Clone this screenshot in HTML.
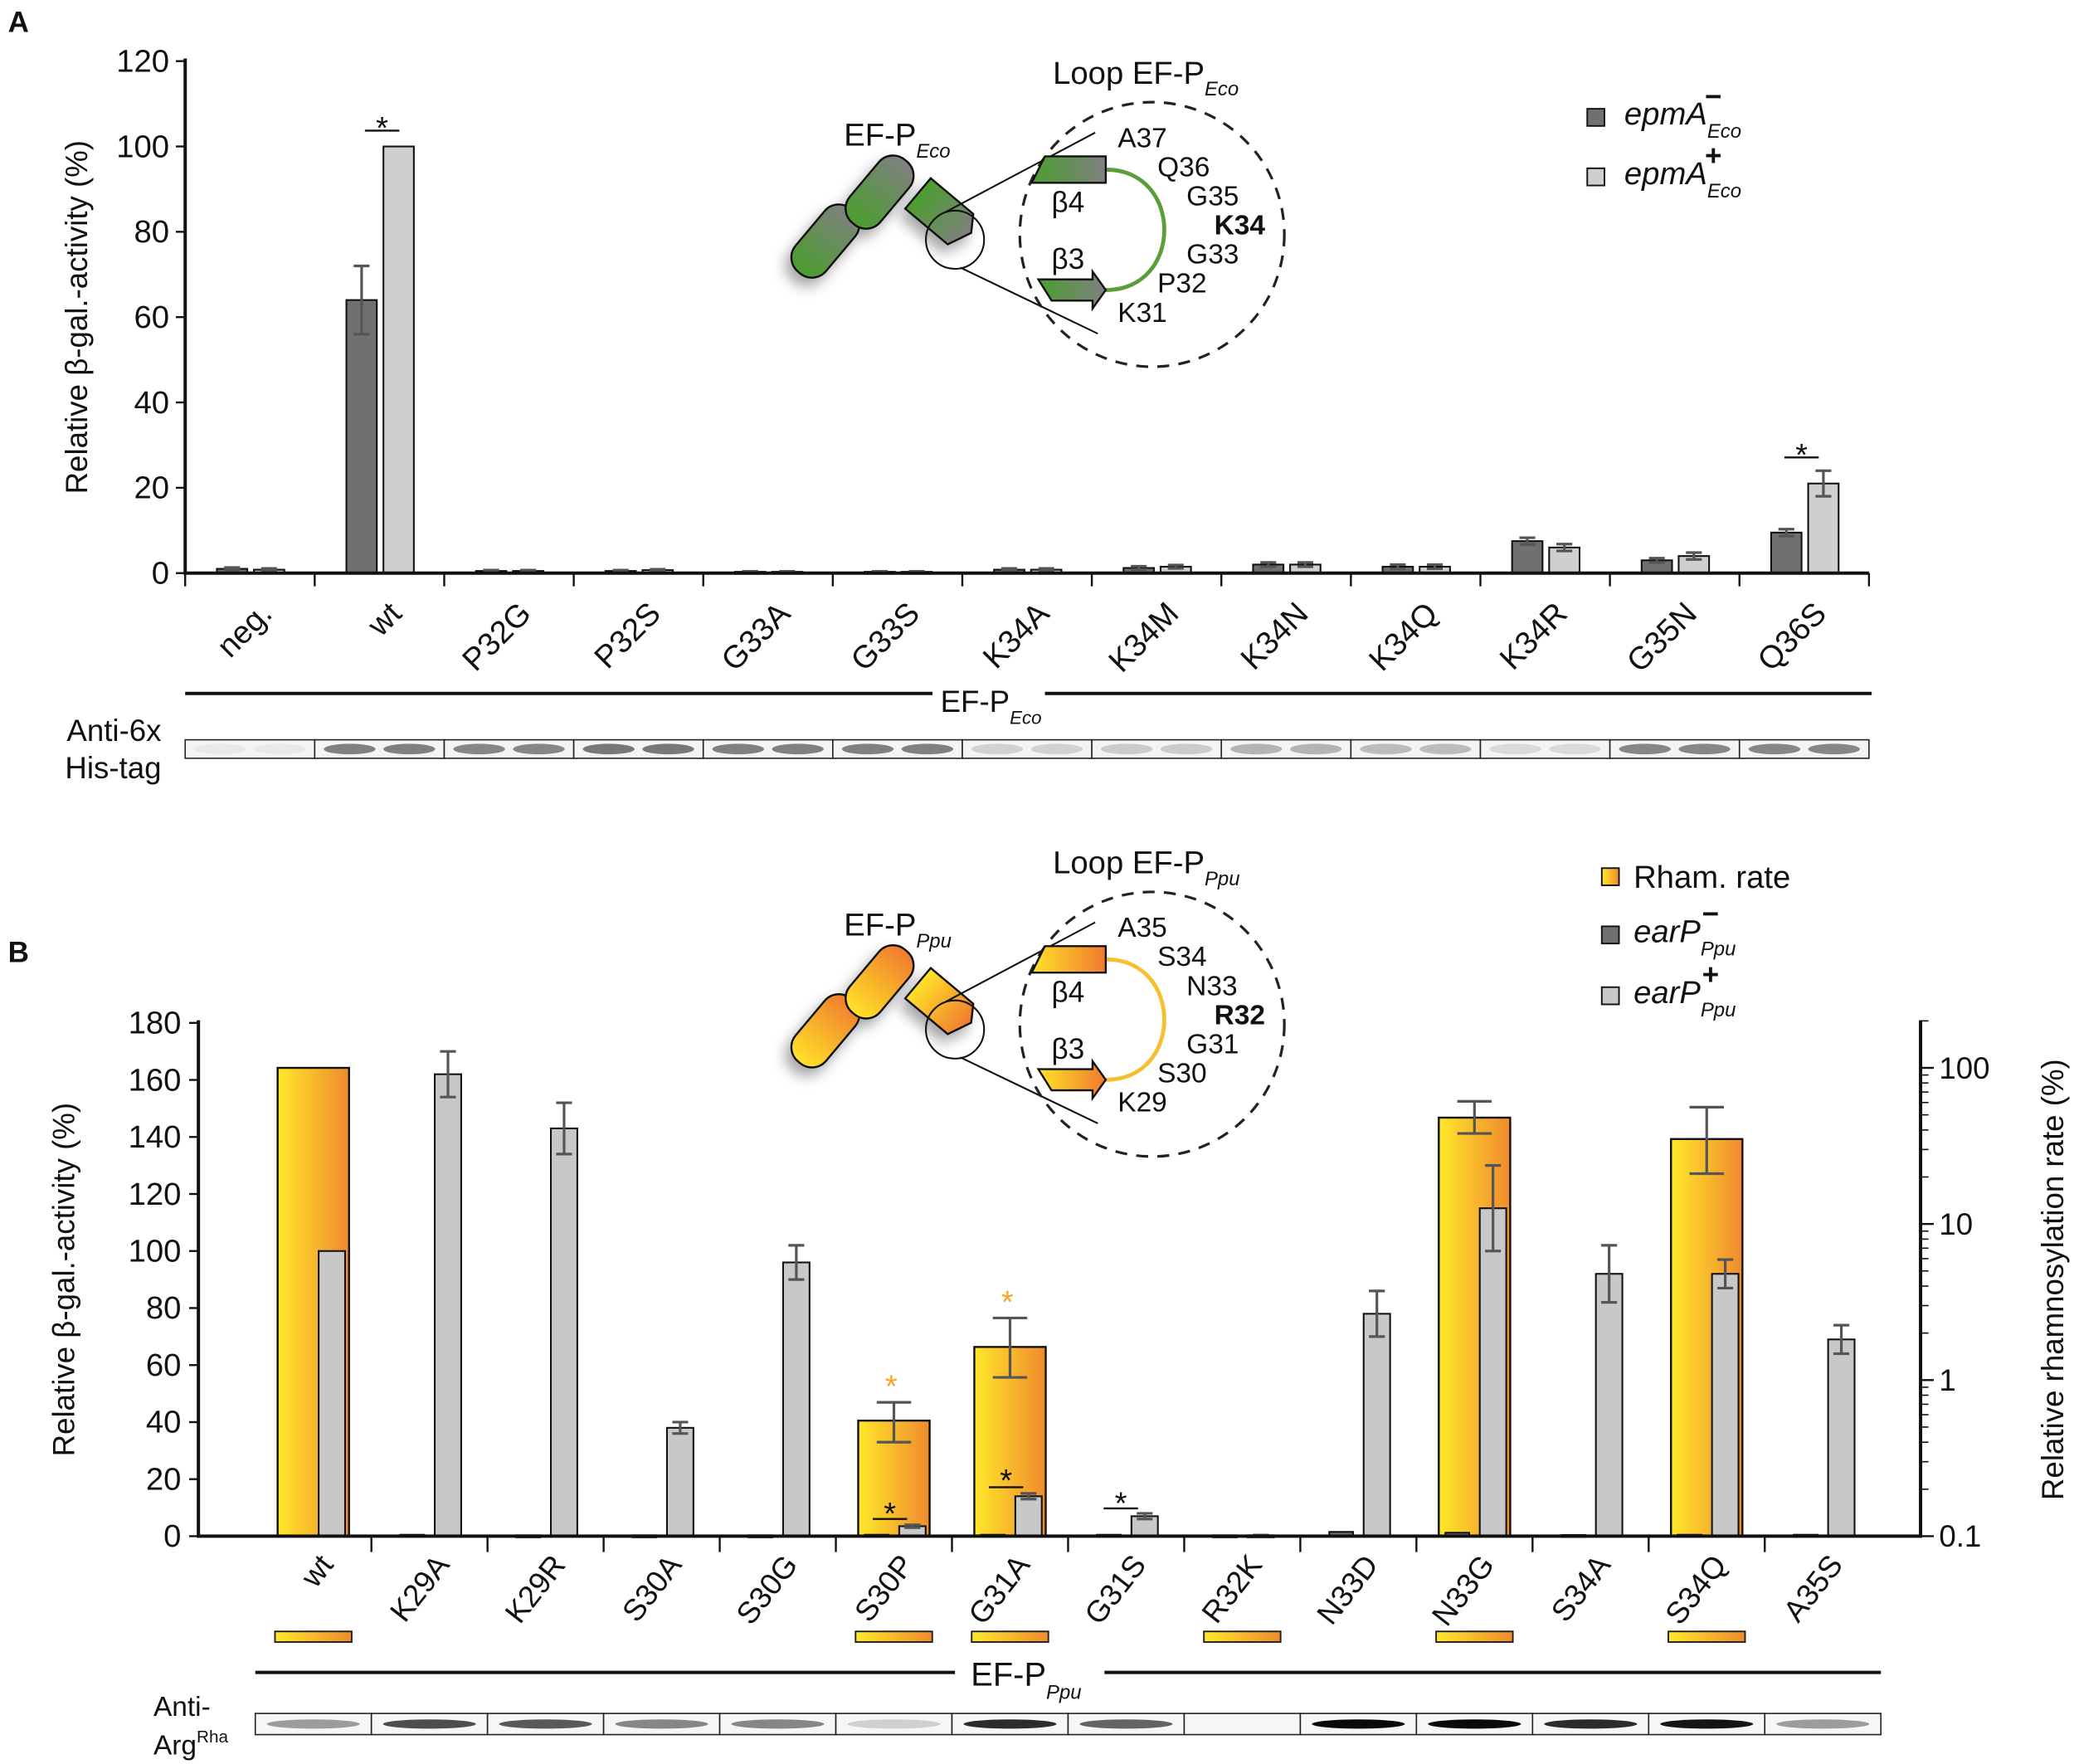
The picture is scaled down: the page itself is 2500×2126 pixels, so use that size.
<!DOCTYPE html>
<html><head><meta charset="utf-8"><style>
html,body{margin:0;padding:0;background:#fff}
svg{display:block}
text{font-family:"Liberation Sans",sans-serif;fill:#111}
</style></head><body>
<svg id="fig" xmlns="http://www.w3.org/2000/svg" width="2500" height="2126" viewBox="0 0 1568 1333">
<defs>
<linearGradient id="rham" x1="0" x2="1" y1="0" y2="0"><stop offset="0" stop-color="#ffe82a"/><stop offset="1" stop-color="#f08a2e"/></linearGradient>
<linearGradient id="grn" x1="0" x2="1" y1="0" y2="0"><stop offset="0" stop-color="#4a9e2e"/><stop offset="1" stop-color="#808080"/></linearGradient>
<linearGradient id="org" x1="0" x2="1" y1="0" y2="0"><stop offset="0" stop-color="#ffe22a"/><stop offset="1" stop-color="#f07a2e"/></linearGradient>
<filter id="sh" x="-30%" y="-30%" width="160%" height="160%"><feDropShadow dx="-4" dy="6" stdDeviation="5" flood-color="#000" flood-opacity="0.35"/></filter>
</defs>
<text x="6" y="24" font-size="22" font-weight="bold">A</text>
<text x="6" y="727" font-size="22" font-weight="bold">B</text>
<g id="gA"></g>
<g id="gB"></g>
<g id="dA"></g>
<g id="dB"></g>
</svg>
<script>
// ---------- Panel A data ----------
const catsA = ["neg.","wt","P32G","P32S","G33A","G33S","K34A","K34M","K34N","K34Q","K34R","G35N","Q36S"];
const darkA = [1,64,0.5,0.5,0.3,0.3,0.8,1.2,2,1.5,7.5,3,9.5];
const darkErrA = [0.3,8,0.2,0.2,0.1,0.1,0.3,0.4,0.5,0.5,0.8,0.5,0.8];
const lightA = [0.8,100,0.5,0.7,0.3,0.3,0.8,1.5,2,1.5,6,4,21];
const lightErrA = [0.3,0,0.2,0.2,0.1,0.1,0.3,0.4,0.5,0.5,0.8,0.8,3];
const ticksA = [0,20,40,60,80,100,120];
const blotA = [0.05,0.75,0.7,0.8,0.75,0.75,0.2,0.25,0.4,0.35,0.15,0.7,0.7];
// ---------- Panel B data ----------
const catsB = ["wt","K29A","K29R","S30A","S30G","S30P","G31A","G31S","R32K","N33D","N33G","S34A","S34Q","A35S"];
const darkB = [0,0.5,0.3,0.3,0.3,0.5,0.5,0.5,0.3,1.5,1.2,0.4,0.5,0.5];
const lightB = [100,162,143,38,96,3.5,14,7,0.3,78,115,92,92,69];
const lightErrB = [0,8,9,2,6,0.5,1,1,0.1,8,15,10,5,5];
const rhamB = [100,null,null,null,null,0.55,1.63,null,null,null,48,null,35,null];
const rhamLo = [null,null,null,null,null,0.40,1.04,null,null,null,38,null,21,null];
const rhamHi = [null,null,null,null,null,0.72,2.5,null,null,null,61,null,56,null];
const rhamMarked = [1,0,0,0,0,1,1,0,1,0,1,0,1,0];
const ticksB = [0,20,40,60,80,100,120,140,160,180];
const logTicks = [0.1,1,10,100];
const blotB = [0.35,0.7,0.65,0.45,0.45,0.12,0.85,0.6,0,1,1,0.85,0.95,0.35];

const NS="http://www.w3.org/2000/svg";
function mk(parent,tag,attrs){const e=document.createElementNS(NS,tag);for(const k in attrs)e.setAttribute(k,attrs[k]);parent.appendChild(e);return e;}

// ===== Panel A =====
const gA=document.getElementById('gA');
const A={x0:140,x1:1413,y0:433,y120:46};
const yA=v=>A.y0-(A.y0-A.y120)*v/120;
const stepA=(A.x1-A.x0)/catsA.length;
const cxA=i=>A.x0+stepA*(i+0.5);
let e;
ticksA.forEach(t=>{
 e=mk(gA,'line',{x1:A.x0-7,x2:A.x0,y1:yA(t),y2:yA(t),stroke:'#111','stroke-width':1.5});
 
 e=mk(gA,'text',{x:A.x0-12,y:yA(t)+8,'font-size':24,'text-anchor':'end'});e.textContent=t;
 
});
e=mk(gA,'text',{transform:`translate(66,${(A.y0+A.y120)/2}) rotate(-90)`,'font-size':23,'text-anchor':'middle'});
e.textContent='Relative β-gal.-activity (%)';

function bar(g,x,w,v,yf,fill,name,err){
 const r=mk(g,'rect',{x:x,y:yf(v),width:w,height:Math.max(yf(0)-yf(v),1.5),fill:fill,stroke:'#111','stroke-width':1.3});
 
 if(err>0){const c=x+w/2;
  const l=mk(g,'path',{d:`M${c},${yf(v+err)}V${yf(Math.max(v-err,0))}M${c-6},${yf(v+err)}H${c+6}M${c-6},${yf(Math.max(v-err,0))}H${c+6}`,stroke:'#555','stroke-width':2,fill:'none'});
  }
}
catsA.forEach((c,i)=>{
 const cx=cxA(i);
 bar(gA,cx-25,23,darkA[i],yA,'#707070','bar-epma-minus-'+c,darkErrA[i]);
 bar(gA,cx+3,23,lightA[i],yA,'#cfcfcf','bar-epma-plus-'+c,lightErrA[i]);
 e=mk(gA,'line',{x1:A.x0+stepA*i,x2:A.x0+stepA*i,y1:A.y0,y2:A.y0+10,stroke:'#111','stroke-width':1.5});
 
 e=mk(gA,'text',{transform:`translate(${cx+18},${A.y0+32}) rotate(-45)`,'font-size':24,'text-anchor':'end'});e.textContent=c;
 
 const bx=A.x0+stepA*i;
 const lane=mk(gA,'rect',{x:bx,y:559,width:stepA,height:14,fill:'#f4f4f4',stroke:'#222','stroke-width':1});
 
 const g=Math.round(240-blotA[i]*150);
 [0.27,0.73].forEach(f=>{const b=mk(gA,'ellipse',{cx:bx+stepA*f,cy:566,rx:stepA*0.2,ry:4,fill:`rgb(${g},${g},${g})`});
  });
});
e=mk(gA,'line',{x1:A.x1,x2:A.x1,y1:A.y0,y2:A.y0+10,stroke:'#111','stroke-width':1.5});
e=mk(gA,'path',{d:`M${A.x0},${A.y120-2}V${A.y0}H${A.x1}`,stroke:'#111','stroke-width':2.5,fill:'none'});

function star(g,x,y,col,lineY){const t=mk(g,'text',{x:x,y:y,'font-size':24,'text-anchor':'middle',style:`fill:${col}`});t.textContent='*';
 
 if(lineY){const l=mk(g,'line',{x1:x-13,x2:x+13,y1:lineY,y2:lineY,stroke:'#111','stroke-width':1.5});}}
star(gA,cxA(1)+2,yA(100)-6,'#111',yA(100)-12);
star(gA,cxA(12)-2,yA(lightA[12]+lightErrA[12])-4,'#111',yA(lightA[12]+lightErrA[12])-10);
e=mk(gA,'path',{d:'M140,524H705M790,524H1415',stroke:'#111','stroke-width':2.5});

e=mk(gA,'text',{x:711,y:538,'font-size':23});e.innerHTML='EF-P<tspan font-size="14" font-style="italic" dy="9">Eco</tspan>';

e=mk(gA,'text',{x:122,y:560,'font-size':23,'text-anchor':'end'});e.textContent='Anti-6x';
e=mk(gA,'text',{x:122,y:588,'font-size':23,'text-anchor':'end'});e.textContent='His-tag';
[['#707070','−',90],['#cfcfcf','+',135]].forEach(([f,s,y])=>{
 const r=mk(gA,'rect',{x:1200,y:y-8,width:13,height:13,fill:f,stroke:'#111','stroke-width':1.2});
 
 const t=mk(gA,'text',{x:1228,y:y+4,'font-size':24,'font-style':'italic'});
 t.innerHTML=`epmA<tspan font-size="15" dy="10">Eco</tspan><tspan font-size="22" font-weight="bold" dx="-28" dy="-24">${s}</tspan>`;
 
});

// ===== Panel B =====
const gB=document.getElementById('gB');
const B={x0:150,x1:1452,y0:1161,y180:773,c0:193,c1:1422};
const yB=v=>B.y0-(B.y0-B.y180)*v/180;
const yL=v=>B.y0-118*(Math.log10(v)+1);
const stepB=(B.c1-B.c0)/catsB.length;
const cxB=i=>B.c0+stepB*(i+0.5);
ticksB.forEach(t=>{
 e=mk(gB,'line',{x1:B.x0-7,x2:B.x0,y1:yB(t),y2:yB(t),stroke:'#111','stroke-width':1.5});
 
 e=mk(gB,'text',{x:B.x0-13,y:yB(t)+8,'font-size':24,'text-anchor':'end'});e.textContent=t;
 
});
logTicks.forEach((t,k)=>{
 e=mk(gB,'line',{x1:B.x1,x2:B.x1+10,y1:yL(t),y2:yL(t),stroke:'#111','stroke-width':1.5});
 
 e=mk(gB,'text',{x:B.x1+14,y:yL(t)+8,'font-size':23});e.textContent=t;
 
 if(k<logTicks.length-1)for(let m=2;m<10;m++){
  e=mk(gB,'line',{x1:B.x1,x2:B.x1+6,y1:yL(t*m),y2:yL(t*m),stroke:'#111','stroke-width':1});}
 else{e=mk(gB,'line',{x1:B.x1,x2:B.x1+6,y1:yL(t*2),y2:yL(t*2),stroke:'#111','stroke-width':1});}
});
e=mk(gB,'text',{transform:`translate(56,${(B.y0+B.y180)/2}) rotate(-90)`,'font-size':23,'text-anchor':'middle'});
e.textContent='Relative β-gal.-activity (%)';

e=mk(gB,'text',{transform:`translate(1560,${(B.y0+B.y180)/2}) rotate(-90)`,'font-size':23,'text-anchor':'middle'});
e.textContent='Relative rhamnosylation rate (%)';

catsB.forEach((c,i)=>{
 const cx=cxB(i);
 if(rhamB[i]!=null){
  const r=mk(gB,'rect',{x:cx-27,y:yL(rhamB[i]),width:54,height:B.y0-yL(rhamB[i]),fill:'url(#rham)',stroke:'#111','stroke-width':1.5});
  
  if(rhamLo[i]!=null){const l=mk(gB,'path',{d:`M${cx},${yL(rhamHi[i])}V${yL(rhamLo[i])}M${cx-13},${yL(rhamHi[i])}H${cx+13}M${cx-13},${yL(rhamLo[i])}H${cx+13}`,stroke:'#555','stroke-width':2,fill:'none'});
   }
 }
 if(darkB[i]>0)bar(gB,cx-22,18,darkB[i],yB,'#707070','bar-earp-minus-'+c,0);
 bar(gB,cx+4,20,lightB[i],yB,'#c8c8c8','bar-earp-plus-'+c,lightErrB[i]);
 if(i<catsB.length-1){
 e=mk(gB,'line',{x1:B.c0+stepB*(i+1),x2:B.c0+stepB*(i+1),y1:B.y0,y2:B.y0+12,stroke:'#111','stroke-width':1.5});
 }
 e=mk(gB,'text',{transform:`translate(${cx+16},${B.y0+22}) rotate(-52)`,'font-size':23,'text-anchor':'end'});e.textContent=c;
 
 if(rhamMarked[i]){const m=mk(gB,'rect',{x:cx-29,y:1233,width:58,height:8,fill:'url(#rham)',stroke:'#222','stroke-width':1.2});
  }
 const bx=B.c0+stepB*i;
 const lane=mk(gB,'rect',{x:bx,y:1295,width:stepB,height:16,fill:'#f6f6f6',stroke:'#222','stroke-width':1});
 
 if(blotB[i]>0){const g=Math.round(235-blotB[i]*225);
  const b=mk(gB,'ellipse',{cx:bx+stepB/2,cy:1303,rx:stepB*0.4,ry:3.5,fill:`rgb(${g},${g},${g})`});
  }
});
e=mk(gB,'path',{d:`M${B.x0},${B.y180-2}V${B.y0}H${B.x1}V${B.y180-2}`,stroke:'#111','stroke-width':2.5,fill:'none'});

star(gB,cxB(5)-2,yL(rhamHi[5])-4,'#f5a623');
star(gB,cxB(6)-2,yL(rhamHi[6])-4,'#f5a623');
star(gB,cxB(5)-3,1152,'#111',1148);
star(gB,cxB(6)-3,1127,'#111',1124);
star(gB,cxB(7)-4,1144,'#111',1140);
e=mk(gB,'path',{d:'M193,1264H722M835,1264H1422',stroke:'#111','stroke-width':2.5});

e=mk(gB,'text',{x:734,y:1274,'font-size':25});e.innerHTML='EF-P<tspan font-size="15" font-style="italic" dy="10">Ppu</tspan>';

e=mk(gB,'text',{x:116,y:1297,'font-size':21});e.textContent='Anti-';
e=mk(gB,'text',{x:116,y:1326,'font-size':21});e.innerHTML='Arg<tspan font-size="13" dy="-9">Rha</tspan>';
e=mk(gB,'rect',{x:1211,y:656,width:13,height:13,fill:'url(#rham)',stroke:'#111','stroke-width':1.2});

e=mk(gB,'text',{x:1235,y:671,'font-size':24});e.textContent='Rham. rate';

[['#707070','−',706],['#c8c8c8','+',752]].forEach(([f,s,y])=>{
 const r=mk(gB,'rect',{x:1211,y:y-6,width:13,height:13,fill:f,stroke:'#111','stroke-width':1.2});
 
 const t=mk(gB,'text',{x:1235,y:y+6,'font-size':24,'font-style':'italic'});
 t.innerHTML=`earP<tspan font-size="15" dy="10">Ppu</tspan><tspan font-size="22" font-weight="bold" dx="-26" dy="-24">${s}</tspan>`;
 
});

// ===== Diagrams =====
function diagram(id,dy,grad,loopCol,sub,labels,boldIdx){
 const g=document.getElementById(id);
 const body=mk(g,'g',{filter:'url(#sh)'});
 const cyl=(cx,cy,len,ang)=>{const c=mk(body,'rect',{x:-len/2,y:-15,width:len,height:30,rx:14,fill:`url(#${grad})`,stroke:'#111','stroke-width':1.5,transform:`translate(${cx},${cy+dy}) rotate(${ang})`});
  };
 cyl(624,182,62,-50);cyl(665,145,62,-50);
 const d3=mk(body,'path',{d:`M0,-15H42L50,-3L42,15H0Z`,fill:`url(#${grad})`,stroke:'#111','stroke-width':1.5,transform:`translate(694,${146+dy}) rotate(40)`});
 
 mk(g,'circle',{cx:722,cy:181+dy,r:22,fill:'none',stroke:'#111','stroke-width':1.3});
 mk(g,'path',{d:`M715,${160+dy}L828,${100+dy}M726,${202+dy}L830,${252+dy}`,stroke:'#111','stroke-width':1.3,fill:'none'});
 e=mk(g,'circle',{cx:871,cy:177+dy,r:100,fill:'none',stroke:'#222','stroke-width':2,'stroke-dasharray':'9,7'});
 
 mk(g,'path',{d:`M836,${128+dy}C895,${128+dy} 895,${219+dy} 836,${219+dy}`,stroke:loopCol,'stroke-width':3,fill:'none'});
 mk(g,'path',{d:`M790,${118+dy}H836V${138+dy}H780Z`,fill:`url(#${grad})`,stroke:'#111','stroke-width':1.5});
 mk(g,'path',{d:`M785,${211+dy}H826V${205+dy}L836,${219+dy}L826,${233+dy}V${227+dy}H795Z`,fill:`url(#${grad})`,stroke:'#111','stroke-width':1.5});
 e=mk(g,'text',{x:796,y:63+dy,'font-size':24});e.innerHTML=`Loop EF-P<tspan font-size="15" font-style="italic" dy="9">${sub}</tspan>`;
 
 e=mk(g,'text',{x:638,y:110+dy,'font-size':24});e.innerHTML=`EF-P<tspan font-size="15" font-style="italic" dy="9">${sub}</tspan>`;
 
 mk(g,'text',{x:795,y:160+dy,'font-size':22}).textContent='β4';
 mk(g,'text',{x:795,y:203+dy,'font-size':22}).textContent='β3';
 const pos=[[845,111],[875,133],[897,155],[918,177],[897,199],[875,221],[845,243]];
 labels.forEach((l,k)=>{const t=mk(g,'text',{x:pos[k][0],y:pos[k][1]+dy,'font-size':21,'font-weight':k===boldIdx?'bold':'normal'});t.textContent=l;
  });
}
diagram('dA',0,'grn','#5a9e3a','Eco',['A37','Q36','G35','K34','G33','P32','K31'],3);
diagram('dB',597,'org','#f5c030','Ppu',['A35','S34','N33','R32','G31','S30','K29'],3);
</script>
</body></html>
